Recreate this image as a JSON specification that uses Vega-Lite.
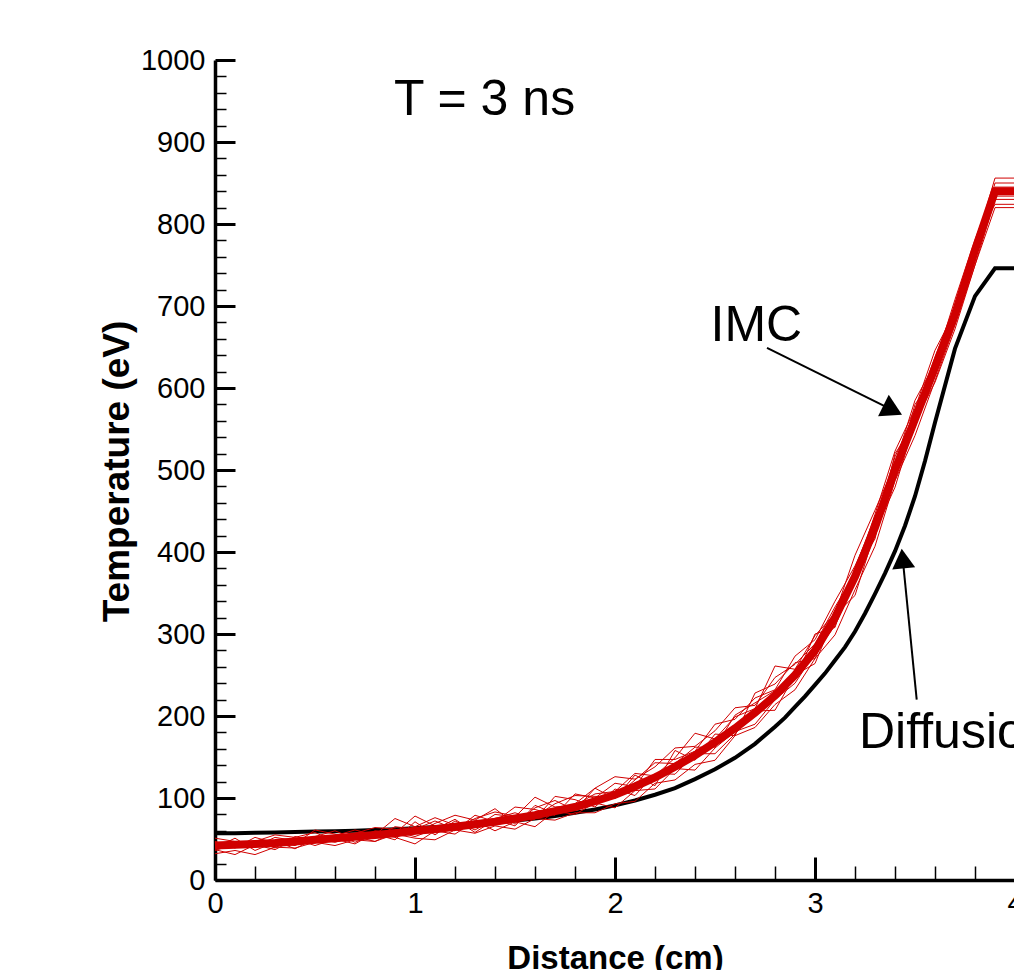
{
"$schema": "https://vega.github.io/schema/vega-lite/v6.json",
"width": 800, "height": 820,
"autosize": {"type": "none"},
"padding": {"left": 215, "top": 60, "right": 0, "bottom": 90},
"background": "white",
"config": {"view": {"stroke": null}, "axis": {"grid": false}},
"datasets": {
"curves": [
{"s":"Diffusion","x":0,"y":57},{"s":"Diffusion","x":0.1,"y":57},{"s":"Diffusion","x":0.2,"y":57.5},{"s":"Diffusion","x":0.3,"y":58},{"s":"Diffusion","x":0.4,"y":58.5},{"s":"Diffusion","x":0.5,"y":59},{"s":"Diffusion","x":0.6,"y":59.5},{"s":"Diffusion","x":0.7,"y":60},{"s":"Diffusion","x":0.8,"y":61},{"s":"Diffusion","x":0.9,"y":62},
{"s":"Diffusion","x":1,"y":63},{"s":"Diffusion","x":1.1,"y":64.5},{"s":"Diffusion","x":1.2,"y":66},{"s":"Diffusion","x":1.3,"y":68},{"s":"Diffusion","x":1.4,"y":70},{"s":"Diffusion","x":1.5,"y":72.5},{"s":"Diffusion","x":1.6,"y":75},{"s":"Diffusion","x":1.7,"y":78},{"s":"Diffusion","x":1.8,"y":82},{"s":"Diffusion","x":1.9,"y":86},
{"s":"Diffusion","x":2,"y":91},{"s":"Diffusion","x":2.1,"y":97},{"s":"Diffusion","x":2.2,"y":104},{"s":"Diffusion","x":2.3,"y":112},{"s":"Diffusion","x":2.4,"y":123},{"s":"Diffusion","x":2.5,"y":135},{"s":"Diffusion","x":2.6,"y":149},{"s":"Diffusion","x":2.7,"y":166},{"s":"Diffusion","x":2.8,"y":187},{"s":"Diffusion","x":2.85,"y":198},{"s":"Diffusion","x":2.9,"y":211},{"s":"Diffusion","x":2.95,"y":224},
{"s":"Diffusion","x":3,"y":238},{"s":"Diffusion","x":3.05,"y":252},{"s":"Diffusion","x":3.1,"y":268},{"s":"Diffusion","x":3.15,"y":284},{"s":"Diffusion","x":3.2,"y":303},{"s":"Diffusion","x":3.25,"y":325},{"s":"Diffusion","x":3.3,"y":349},{"s":"Diffusion","x":3.35,"y":374},{"s":"Diffusion","x":3.4,"y":401},{"s":"Diffusion","x":3.45,"y":432},{"s":"Diffusion","x":3.5,"y":468},{"s":"Diffusion","x":3.55,"y":511},{"s":"Diffusion","x":3.6,"y":558},{"s":"Diffusion","x":3.7,"y":648},{"s":"Diffusion","x":3.8,"y":712},{"s":"Diffusion","x":3.9,"y":746},{"s":"Diffusion","x":4,"y":746},
{"s":"IMC","x":0,"y":42},{"s":"IMC","x":0.1,"y":43},{"s":"IMC","x":0.2,"y":44},{"s":"IMC","x":0.3,"y":45},{"s":"IMC","x":0.4,"y":47},{"s":"IMC","x":0.5,"y":49},{"s":"IMC","x":0.6,"y":51},{"s":"IMC","x":0.7,"y":53},{"s":"IMC","x":0.8,"y":55},{"s":"IMC","x":0.9,"y":57},
{"s":"IMC","x":1,"y":60},{"s":"IMC","x":1.1,"y":62},{"s":"IMC","x":1.2,"y":65},{"s":"IMC","x":1.3,"y":68},{"s":"IMC","x":1.4,"y":71},{"s":"IMC","x":1.5,"y":75},{"s":"IMC","x":1.6,"y":79},{"s":"IMC","x":1.7,"y":84},{"s":"IMC","x":1.8,"y":89},{"s":"IMC","x":1.9,"y":96},
{"s":"IMC","x":2,"y":104},{"s":"IMC","x":2.1,"y":114},{"s":"IMC","x":2.2,"y":125},{"s":"IMC","x":2.3,"y":138},{"s":"IMC","x":2.4,"y":152},{"s":"IMC","x":2.5,"y":168},{"s":"IMC","x":2.6,"y":185},{"s":"IMC","x":2.7,"y":204},{"s":"IMC","x":2.8,"y":225},{"s":"IMC","x":2.9,"y":250},
{"s":"IMC","x":3,"y":280},{"s":"IMC","x":3.1,"y":320},{"s":"IMC","x":3.2,"y":370},{"s":"IMC","x":3.3,"y":430},{"s":"IMC","x":3.4,"y":500},{"s":"IMC","x":3.5,"y":562},{"s":"IMC","x":3.6,"y":625},{"s":"IMC","x":3.7,"y":690},{"s":"IMC","x":3.8,"y":768},{"s":"IMC","x":3.9,"y":840},{"s":"IMC","x":4,"y":840},
{"s":"A","x":0,"y":47},{"s":"A","x":0.1,"y":39},{"s":"A","x":0.2,"y":52},{"s":"A","x":0.3,"y":45},{"s":"A","x":0.4,"y":42},{"s":"A","x":0.5,"y":53},{"s":"A","x":0.6,"y":60},{"s":"A","x":0.7,"y":50},{"s":"A","x":0.8,"y":60},{"s":"A","x":0.9,"y":57},
{"s":"A","x":1,"y":78},{"s":"A","x":1.1,"y":66},{"s":"A","x":1.2,"y":60},{"s":"A","x":1.3,"y":79},{"s":"A","x":1.4,"y":71},{"s":"A","x":1.5,"y":89},{"s":"A","x":1.6,"y":86},{"s":"A","x":1.7,"y":79},{"s":"A","x":1.8,"y":105},{"s":"A","x":1.9,"y":100},
{"s":"A","x":2,"y":118},{"s":"A","x":2.1,"y":114},{"s":"A","x":2.2,"y":147},{"s":"A","x":2.3,"y":147},{"s":"A","x":2.4,"y":157},{"s":"A","x":2.5,"y":190},{"s":"A","x":2.6,"y":196},{"s":"A","x":2.7,"y":222},{"s":"A","x":2.8,"y":232},{"s":"A","x":2.9,"y":273},
{"s":"A","x":3,"y":293},{"s":"A","x":3.1,"y":340},{"s":"A","x":3.2,"y":383},{"s":"A","x":3.3,"y":437},{"s":"A","x":3.4,"y":516},{"s":"A","x":3.5,"y":570},{"s":"A","x":3.6,"y":638},{"s":"A","x":3.7,"y":700},{"s":"A","x":3.8,"y":773},{"s":"A","x":3.9,"y":856},{"s":"A","x":4,"y":856},
{"s":"B","x":0,"y":32},{"s":"B","x":0.1,"y":36},{"s":"B","x":0.2,"y":31},{"s":"B","x":0.3,"y":40},{"s":"B","x":0.4,"y":39},{"s":"B","x":0.5,"y":46},{"s":"B","x":0.6,"y":42},{"s":"B","x":0.7,"y":49},{"s":"B","x":0.8,"y":47},{"s":"B","x":0.9,"y":56},
{"s":"B","x":1,"y":51},{"s":"B","x":1.1,"y":49},{"s":"B","x":1.2,"y":61},{"s":"B","x":1.3,"y":57},{"s":"B","x":1.4,"y":66},{"s":"B","x":1.5,"y":62},{"s":"B","x":1.6,"y":75},{"s":"B","x":1.7,"y":73},{"s":"B","x":1.8,"y":82},{"s":"B","x":1.9,"y":82},
{"s":"B","x":2,"y":93},{"s":"B","x":2.1,"y":96},{"s":"B","x":2.2,"y":118},{"s":"B","x":2.3,"y":122},{"s":"B","x":2.4,"y":141},{"s":"B","x":2.5,"y":146},{"s":"B","x":2.6,"y":176},{"s":"B","x":2.7,"y":186},{"s":"B","x":2.8,"y":214},{"s":"B","x":2.9,"y":232},
{"s":"B","x":3,"y":270},{"s":"B","x":3.1,"y":299},{"s":"B","x":3.2,"y":354},{"s":"B","x":3.3,"y":407},{"s":"B","x":3.4,"y":487},{"s":"B","x":3.5,"y":542},{"s":"B","x":3.6,"y":609},{"s":"B","x":3.7,"y":677},{"s":"B","x":3.8,"y":750},{"s":"B","x":3.9,"y":820},{"s":"B","x":4,"y":820},
{"s":"C","x":0,"y":42},{"s":"C","x":0.1,"y":46},{"s":"C","x":0.2,"y":41},{"s":"C","x":0.3,"y":52},{"s":"C","x":0.4,"y":48},{"s":"C","x":0.5,"y":45},{"s":"C","x":0.6,"y":54},{"s":"C","x":0.7,"y":61},{"s":"C","x":0.8,"y":55},{"s":"C","x":0.9,"y":75},
{"s":"C","x":1,"y":65},{"s":"C","x":1.1,"y":76},{"s":"C","x":1.2,"y":67},{"s":"C","x":1.3,"y":64},{"s":"C","x":1.4,"y":80},{"s":"C","x":1.5,"y":77},{"s":"C","x":1.6,"y":101},{"s":"C","x":1.7,"y":89},{"s":"C","x":1.8,"y":91},{"s":"C","x":1.9,"y":105},
{"s":"C","x":2,"y":108},{"s":"C","x":2.1,"y":130},{"s":"C","x":2.2,"y":127},{"s":"C","x":2.3,"y":149},{"s":"C","x":2.4,"y":179},{"s":"C","x":2.5,"y":172},{"s":"C","x":2.6,"y":199},{"s":"C","x":2.7,"y":209},{"s":"C","x":2.8,"y":261},{"s":"C","x":2.9,"y":257},
{"s":"C","x":3,"y":298},{"s":"C","x":3.1,"y":325},{"s":"C","x":3.2,"y":396},{"s":"C","x":3.3,"y":451},{"s":"C","x":3.4,"y":507},{"s":"C","x":3.5,"y":585},{"s":"C","x":3.6,"y":630},{"s":"C","x":3.7,"y":708},{"s":"C","x":3.8,"y":781},{"s":"C","x":3.9,"y":845},{"s":"C","x":4,"y":845},
{"s":"D","x":0,"y":37},{"s":"D","x":0.1,"y":31},{"s":"D","x":0.2,"y":43},{"s":"D","x":0.3,"y":37},{"s":"D","x":0.4,"y":50},{"s":"D","x":0.5,"y":42},{"s":"D","x":0.6,"y":50},{"s":"D","x":0.7,"y":44},{"s":"D","x":0.8,"y":58},{"s":"D","x":0.9,"y":52},
{"s":"D","x":1,"y":44},{"s":"D","x":1.1,"y":60},{"s":"D","x":1.2,"y":56},{"s":"D","x":1.3,"y":72},{"s":"D","x":1.4,"y":60},{"s":"D","x":1.5,"y":71},{"s":"D","x":1.6,"y":65},{"s":"D","x":1.7,"y":84},{"s":"D","x":1.8,"y":80},{"s":"D","x":1.9,"y":94},
{"s":"D","x":2,"y":88},{"s":"D","x":2.1,"y":109},{"s":"D","x":2.2,"y":111},{"s":"D","x":2.3,"y":136},{"s":"D","x":2.4,"y":134},{"s":"D","x":2.5,"y":161},{"s":"D","x":2.6,"y":181},{"s":"D","x":2.7,"y":190},{"s":"D","x":2.8,"y":220},{"s":"D","x":2.9,"y":240},
{"s":"D","x":3,"y":277},{"s":"D","x":3.1,"y":310},{"s":"D","x":3.2,"y":365},{"s":"D","x":3.3,"y":422},{"s":"D","x":3.4,"y":495},{"s":"D","x":3.5,"y":552},{"s":"D","x":3.6,"y":620},{"s":"D","x":3.7,"y":682},{"s":"D","x":3.8,"y":763},{"s":"D","x":3.9,"y":834},{"s":"D","x":4,"y":834},
{"s":"E","x":0,"y":51},{"s":"E","x":0.1,"y":47},{"s":"E","x":0.2,"y":47},{"s":"E","x":0.3,"y":55},{"s":"E","x":0.4,"y":52},{"s":"E","x":0.5,"y":58},{"s":"E","x":0.6,"y":47},{"s":"E","x":0.7,"y":57},{"s":"E","x":0.8,"y":64},{"s":"E","x":0.9,"y":62},
{"s":"E","x":1,"y":56},{"s":"E","x":1.1,"y":69},{"s":"E","x":1.2,"y":79},{"s":"E","x":1.3,"y":73},{"s":"E","x":1.4,"y":87},{"s":"E","x":1.5,"y":68},{"s":"E","x":1.6,"y":88},{"s":"E","x":1.7,"y":97},{"s":"E","x":1.8,"y":85},{"s":"E","x":1.9,"y":112},
{"s":"E","x":2,"y":126},{"s":"E","x":2.1,"y":123},{"s":"E","x":2.2,"y":138},{"s":"E","x":2.3,"y":161},{"s":"E","x":2.4,"y":163},{"s":"E","x":2.5,"y":182},{"s":"E","x":2.6,"y":210},{"s":"E","x":2.7,"y":213},{"s":"E","x":2.8,"y":247},{"s":"E","x":2.9,"y":263},
{"s":"E","x":3,"y":288},{"s":"E","x":3.1,"y":333},{"s":"E","x":3.2,"y":373},{"s":"E","x":3.3,"y":446},{"s":"E","x":3.4,"y":523},{"s":"E","x":3.5,"y":575},{"s":"E","x":3.6,"y":646},{"s":"E","x":3.7,"y":693},{"s":"E","x":3.8,"y":778},{"s":"E","x":3.9,"y":840},{"s":"E","x":4,"y":840},
{"s":"F","x":0,"y":39},{"s":"F","x":0.1,"y":51},{"s":"F","x":0.2,"y":36},{"s":"F","x":0.3,"y":46},{"s":"F","x":0.4,"y":44},{"s":"F","x":0.5,"y":61},{"s":"F","x":0.6,"y":56},{"s":"F","x":0.7,"y":46},{"s":"F","x":0.8,"y":56},{"s":"F","x":0.9,"y":49},
{"s":"F","x":1,"y":71},{"s":"F","x":1.1,"y":55},{"s":"F","x":1.2,"y":72},{"s":"F","x":1.3,"y":61},{"s":"F","x":1.4,"y":75},{"s":"F","x":1.5,"y":82},{"s":"F","x":1.6,"y":74},{"s":"F","x":1.7,"y":102},{"s":"F","x":1.8,"y":98},{"s":"F","x":1.9,"y":89},
{"s":"F","x":2,"y":111},{"s":"F","x":2.1,"y":103},{"s":"F","x":2.2,"y":130},{"s":"F","x":2.3,"y":129},{"s":"F","x":2.4,"y":154},{"s":"F","x":2.5,"y":154},{"s":"F","x":2.6,"y":178},{"s":"F","x":2.7,"y":206},{"s":"F","x":2.8,"y":207},{"s":"F","x":2.9,"y":250},
{"s":"F","x":3,"y":264},{"s":"F","x":3.1,"y":323},{"s":"F","x":3.2,"y":347},{"s":"F","x":3.3,"y":425},{"s":"F","x":3.4,"y":479},{"s":"F","x":3.5,"y":559},{"s":"F","x":3.6,"y":607},{"s":"F","x":3.7,"y":672},{"s":"F","x":3.8,"y":750},{"s":"F","x":3.9,"y":830},{"s":"F","x":4,"y":830},
{"s":"G","x":0,"y":45},{"s":"G","x":0.1,"y":41},{"s":"G","x":0.2,"y":48},{"s":"G","x":0.3,"y":39},{"s":"G","x":0.4,"y":53},{"s":"G","x":0.5,"y":48},{"s":"G","x":0.6,"y":53},{"s":"G","x":0.7,"y":57},{"s":"G","x":0.8,"y":52},{"s":"G","x":0.9,"y":65},
{"s":"G","x":1,"y":62},{"s":"G","x":1.1,"y":72},{"s":"G","x":1.2,"y":62},{"s":"G","x":1.3,"y":75},{"s":"G","x":1.4,"y":83},{"s":"G","x":1.5,"y":78},{"s":"G","x":1.6,"y":77},{"s":"G","x":1.7,"y":93},{"s":"G","x":1.8,"y":103},{"s":"G","x":1.9,"y":102},
{"s":"G","x":2,"y":101},{"s":"G","x":2.1,"y":122},{"s":"G","x":2.2,"y":143},{"s":"G","x":2.3,"y":142},{"s":"G","x":2.4,"y":162},{"s":"G","x":2.5,"y":162},{"s":"G","x":2.6,"y":201},{"s":"G","x":2.7,"y":216},{"s":"G","x":2.8,"y":231},{"s":"G","x":2.9,"y":244},
{"s":"G","x":3,"y":300},{"s":"G","x":3.1,"y":308},{"s":"G","x":3.2,"y":380},{"s":"G","x":3.3,"y":444},{"s":"G","x":3.4,"y":492},{"s":"G","x":3.5,"y":580},{"s":"G","x":3.6,"y":615},{"s":"G","x":3.7,"y":696},{"s":"G","x":3.8,"y":760},{"s":"G","x":3.9,"y":850},{"s":"G","x":4,"y":850},
{"s":"H","x":0,"y":36},{"s":"H","x":0.1,"y":44},{"s":"H","x":0.2,"y":40},{"s":"H","x":0.3,"y":48},{"s":"H","x":0.4,"y":38},{"s":"H","x":0.5,"y":51},{"s":"H","x":0.6,"y":46},{"s":"H","x":0.7,"y":53},{"s":"H","x":0.8,"y":47},{"s":"H","x":0.9,"y":59},
{"s":"H","x":1,"y":53},{"s":"H","x":1.1,"y":62},{"s":"H","x":1.2,"y":74},{"s":"H","x":1.3,"y":58},{"s":"H","x":1.4,"y":74},{"s":"H","x":1.5,"y":66},{"s":"H","x":1.6,"y":91},{"s":"H","x":1.7,"y":81},{"s":"H","x":1.8,"y":93},{"s":"H","x":1.9,"y":112},
{"s":"H","x":2,"y":99},{"s":"H","x":2.1,"y":128},{"s":"H","x":2.2,"y":115},{"s":"H","x":2.3,"y":158},{"s":"H","x":2.4,"y":146},{"s":"H","x":2.5,"y":178},{"s":"H","x":2.6,"y":176},{"s":"H","x":2.7,"y":228},{"s":"H","x":2.8,"y":239},{"s":"H","x":2.9,"y":265},
{"s":"H","x":3,"y":270},{"s":"H","x":3.1,"y":328},{"s":"H","x":3.2,"y":376},{"s":"H","x":3.3,"y":416},{"s":"H","x":3.4,"y":520},{"s":"H","x":3.5,"y":556},{"s":"H","x":3.6,"y":635},{"s":"H","x":3.7,"y":678},{"s":"H","x":3.8,"y":780},{"s":"H","x":3.9,"y":824},{"s":"H","x":4,"y":824}
],
"arrows": [
{"a":"imc","x":2.76,"y":649},{"a":"imc","x":3.3885,"y":573},
{"a":"dif","x":3.5085,"y":220},{"a":"dif","x":3.4385,"y":392}
],
"labels": [
{"label":"T = 3 ns","x":0.895,"y":933},
{"label":"IMC","x":2.4775,"y":657},
{"label":"Diffusion","x":3.22,"y":161}
]
},
"layer": [
{
"data": {"name": "curves"},
"transform": [{"filter": "datum.s === 'Diffusion'"}],
"mark": {"type": "line", "color": "black", "strokeWidth": 4},
"encoding": {
"x": {"field": "x", "type": "quantitative", "scale": {"domain": [0, 4], "nice": false, "zero": false},
"axis": {"orient": "bottom", "values": [0, 1, 2, 3, 4], "format": "d", "tickSize": -23, "tickWidth": 3, "tickColor": "black",
"domainColor": "black", "domainWidth": 3.5, "labelFont": "Liberation Sans", "labelFontSize": 29, "labelColor": "black",
"labelPadding": 32, "labelFlush": false, "labelOverlap": false, "labelBound": false,
"title": "Distance (cm)", "titleFont": "Liberation Sans", "titleFontSize": 33, "titleFontWeight": "bold", "titleColor": "black",
"titleX": 400, "titleY": 88, "titleBaseline": "alphabetic", "titleAlign": "center", "grid": false}},
"y": {"field": "y", "type": "quantitative", "scale": {"domain": [0, 1000], "nice": false, "zero": false},
"axis": {"orient": "left", "values": [0, 100, 200, 300, 400, 500, 600, 700, 800, 900, 1000], "format": "d", "tickSize": -20, "tickWidth": 3, "tickColor": "black",
"domainColor": "black", "domainWidth": 3.5, "labelFont": "Liberation Sans", "labelFontSize": 29, "labelColor": "black",
"labelPadding": 30, "labelOverlap": false, "labelBound": false,
"title": "Temperature (eV)", "titleFont": "Liberation Sans", "titleFontSize": 37, "titleFontWeight": "bold", "titleColor": "black",
"titleAngle": 270, "titleX": -87, "titleY": 411, "titleBaseline": "alphabetic", "titleAlign": "center", "grid": false}}
}
},
{
"data": {"name": "curves"},
"transform": [{"filter": "datum.s === 'IMC'"}],
"mark": {"type": "line", "color": "#D00000", "strokeWidth": 8},
"encoding": {
"x": {"field": "x", "type": "quantitative", "scale": {"domain": [0, 4], "nice": false, "zero": false},
"axis": {"orient": "bottom", "values": [0.2, 0.4, 0.6, 0.8, 1.2, 1.4, 1.6, 1.8, 2.2, 2.4, 2.6, 2.8, 3.2, 3.4, 3.6, 3.8], "tickSize": -14, "tickWidth": 1.5, "tickColor": "black", "labels": false, "domain": false, "title": null, "grid": false}},
"y": {"field": "y", "type": "quantitative", "scale": {"domain": [0, 1000], "nice": false, "zero": false},
"axis": {"orient": "left", "values": [20,40,60,80,120,140,160,180,220,240,260,280,320,340,360,380,420,440,460,480,520,540,560,580,620,640,660,680,720,740,760,780,820,840,860,880,920,940,960,980], "tickSize": -11, "tickWidth": 1.5, "tickColor": "black", "labels": false, "domain": false, "title": null, "grid": false}}
}
},
{
"data": {"name": "curves"},
"transform": [{"filter": "datum.s !== 'IMC' && datum.s !== 'Diffusion'"}],
"mark": {"type": "line", "color": "#D00000", "strokeWidth": 1},
"encoding": {
"x": {"field": "x", "type": "quantitative", "scale": {"domain": [0, 4], "nice": false, "zero": false}, "axis": null},
"y": {"field": "y", "type": "quantitative", "scale": {"domain": [0, 1000], "nice": false, "zero": false}, "axis": null},
"detail": {"field": "s", "type": "nominal"}
}
},
{
"data": {"name": "arrows"},
"mark": {"type": "line", "color": "black", "strokeWidth": 2},
"encoding": {
"x": {"field": "x", "type": "quantitative", "scale": {"domain": [0, 4], "nice": false, "zero": false}, "axis": null},
"y": {"field": "y", "type": "quantitative", "scale": {"domain": [0, 1000], "nice": false, "zero": false}, "axis": null},
"detail": {"field": "a", "type": "nominal"}
}
},
{
"data": {"values": [{"x": 3.3885, "y": 573}]},
"mark": {"type": "point", "shape": "triangle-up", "filled": true, "color": "black", "opacity": 1, "size": 576, "angle": 116.4, "strokeWidth": 0},
"encoding": {
"x": {"field": "x", "type": "quantitative", "scale": {"domain": [0, 4], "nice": false, "zero": false}, "axis": null},
"y": {"field": "y", "type": "quantitative", "scale": {"domain": [0, 1000], "nice": false, "zero": false}, "axis": null}
}
},
{
"data": {"values": [{"x": 3.4385, "y": 392}]},
"mark": {"type": "point", "shape": "triangle-up", "filled": true, "color": "black", "opacity": 1, "size": 529, "angle": 354.3, "strokeWidth": 0},
"encoding": {
"x": {"field": "x", "type": "quantitative", "scale": {"domain": [0, 4], "nice": false, "zero": false}, "axis": null},
"y": {"field": "y", "type": "quantitative", "scale": {"domain": [0, 1000], "nice": false, "zero": false}, "axis": null}
}
},
{
"data": {"name": "labels"},
"mark": {"type": "text", "align": "left", "baseline": "alphabetic", "font": "Liberation Sans", "fontSize": 50, "color": "black"},
"encoding": {
"x": {"field": "x", "type": "quantitative", "scale": {"domain": [0, 4], "nice": false, "zero": false}, "axis": null},
"y": {"field": "y", "type": "quantitative", "scale": {"domain": [0, 1000], "nice": false, "zero": false}, "axis": null},
"text": {"field": "label", "type": "nominal"}
}
}
],
"resolve": {"axis": {"x": "independent", "y": "independent"}}
}
